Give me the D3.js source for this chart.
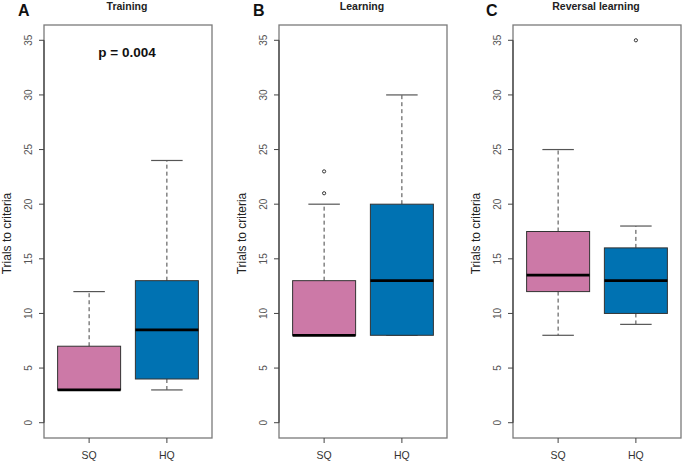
<!DOCTYPE html>
<html>
<head>
<meta charset="utf-8">
<script src="https://cdn.jsdelivr.net/npm/d3@7"></script>
<style>
  body { margin: 0; background: #fff; }
  svg { display: block; font-family: "Liberation Sans", Arial, sans-serif; }
</style>
</head>
<body>
<div id="chart"></div>
<script>
// panel info
const panelLetters = ["A", "B", "C"];
const panelTitles = ["Training", "Learning", "Reversal learning"];
const groups = ["SQ", "HQ"];
const groupColors = ["#CC79A7", "#0072B2"];
const yTicks = [0, 5, 10, 15, 20, 25, 30, 35];

// box stats per panel: [SQ, HQ] -> [lowWhisker, q1, median, q3, highWhisker]
const trainingStats = [[3, 3, 3, 7, 12], [3, 4, 8.5, 13, 24]];
const learningStats = [[8, 8, 8, 13, 20], [8, 8, 13, 20, 30]];
const reversalStats = [[8, 12, 13.5, 17.5, 25], [9, 10, 13, 16, 18]];

// outliers per panel: [SQ, HQ]
const trainingOutliers = [[], []];
const learningOutliers = [[21, 23], []];
const reversalOutliers = [[], [35]];

const pText = ["p = 0.004", "", ""];

const allStats = [trainingStats, learningStats, reversalStats];
const allOutliers = [trainingOutliers, learningOutliers, reversalOutliers];

const W = 685, H = 461;
const svg = d3.select("#chart").append("svg")
    .attr("width", W)
    .attr("height", H);

const panelW = 168;
const panelLeft = [44, 279, 513];
const plotTop = 25, plotBottom = 438;

const y = d3.scaleLinear().domain([-1.4, 36.4]).range([plotBottom, plotTop]);
// R puts group centres at 1 and 2 on a 0.5..2.5 range, plus 4% on each side
const x = d3.scaleLinear().domain([0.42, 2.58]).range([0, panelW]);
const boxW = 63;

panelLetters.forEach((letter, i) => {
    let g = svg.append("g").attr("transform", `translate(${panelLeft[i]},0)`);

    // frame
    g.append("rect")
        .attr("x", 0).attr("y", plotTop)
        .attr("width", panelW).attr("height", plotBottom - plotTop)
        .attr("fill", "none")
        .attr("stroke", "#7a7a7a")
        .attr("stroke-width", 1.3);

    // y axis
    g.append("line")
        .attr("x1", 0).attr("x2", 0)
        .attr("y1", y(0)).attr("y2", y(35))
        .attr("stroke", "#444").attr("stroke-width", 1.2);
    g.selectAll(".ytick")
        .data(yTicks)
        .join("line")
        .attr("x1", -5).attr("x2", 0)
        .attr("y1", d => y(d)).attr("y2", d => y(d))
        .attr("stroke", "#444").attr("stroke-width", 1);
    g.selectAll(".ylab")
        .data(yTicks)
        .join("text")
        .attr("transform", d => `translate(-12,${y(d)}) rotate(-90)`)
        .attr("text-anchor", "middle")
        .attr("font-size", 10)
        .attr("fill", "#555")
        .text(d => d);

    g.append("text")
        .attr("transform", `translate(-33,${(plotTop + plotBottom) / 2 + 2}) rotate(-90)`)
        .attr("text-anchor", "middle")
        .attr("font-size", 12)
        .attr("fill", "#222")
        .text("Trials to criteria");

    // x axis ticks
    groups.forEach((grp, j) => {
        g.append("line")
            .attr("x1", x(j + 1)).attr("x2", x(j + 1))
            .attr("y1", plotBottom).attr("y2", plotBottom + 5)
            .attr("stroke", "#444");
        g.append("text")
            .attr("x", x(j + 1)).attr("y", plotBottom + 21)
            .attr("text-anchor", "middle")
            .attr("font-size", 10.5)
            .attr("fill", "#333")
            .text(grp);
    });

    // boxes
    allStats[i].forEach((s, j) => {
        let cx = x(j + 1);
        // whiskers
        g.append("line")
            .attr("x1", cx).attr("x2", cx)
            .attr("y1", y(s[3])).attr("y2", y(s[4]))
            .attr("stroke", "#444").attr("stroke-dasharray", "4,3");
        g.append("line")
            .attr("x1", cx).attr("x2", cx)
            .attr("y1", y(s[1])).attr("y2", y(s[0]))
            .attr("stroke", "#444").attr("stroke-dasharray", "4,3");
        // caps
        [s[0], s[4]].forEach(v => {
            g.append("line")
                .attr("x1", cx - boxW / 4).attr("x2", cx + boxW / 4)
                .attr("y1", y(v)).attr("y2", y(v))
                .attr("stroke", "#555").attr("stroke-width", 1.2);
        });
        g.append("rect")
            .attr("x", cx - boxW / 2)
            .attr("y", y(s[3]))
            .attr("width", boxW)
            .attr("height", y(s[1]) - y(s[3]))
            .attr("fill", groupColors[j])
            .attr("stroke", "#333")
            .attr("stroke-width", 1);
        g.append("line")
            .attr("x1", cx - boxW / 2).attr("x2", cx + boxW / 2)
            .attr("y1", y(s[2])).attr("y2", y(s[2]))
            .attr("stroke", "#000").attr("stroke-width", 2.8);

        allOutliers[i][j].forEach(v => {
            g.append("circle")
                .attr("cx", cx).attr("cy", y(v))
                .attr("r", 1.6)
                .attr("fill", "#fff")
                .attr("stroke", "#333")
                .attr("stroke-width", 1);
        });
    });

    // title & letter
    g.append("text")
        .attr("x", panelW / 2 - 1).attr("y", 10)
        .attr("text-anchor", "middle")
        .attr("font-size", 10.5)
        .attr("font-weight", "bold")
        .attr("fill", "#222")
        .text(panelTitles[i]);
    g.append("text")
        .attr("x", i == 2 ? -27 : -26).attr("y", 16)
        .attr("font-size", 16)
        .attr("font-weight", "bold")
        .attr("fill", "#111")
        .text(letter);

    if (pText[i]) {
        g.append("text")
            .attr("x", panelW / 2 - 1).attr("y", 57)
            .attr("text-anchor", "middle")
            .attr("font-size", 13.5)
            .attr("font-weight", "bold")
            .attr("fill", "#111")
            .text(pText[i]);
    }
});
</script>
</body>
</html>
